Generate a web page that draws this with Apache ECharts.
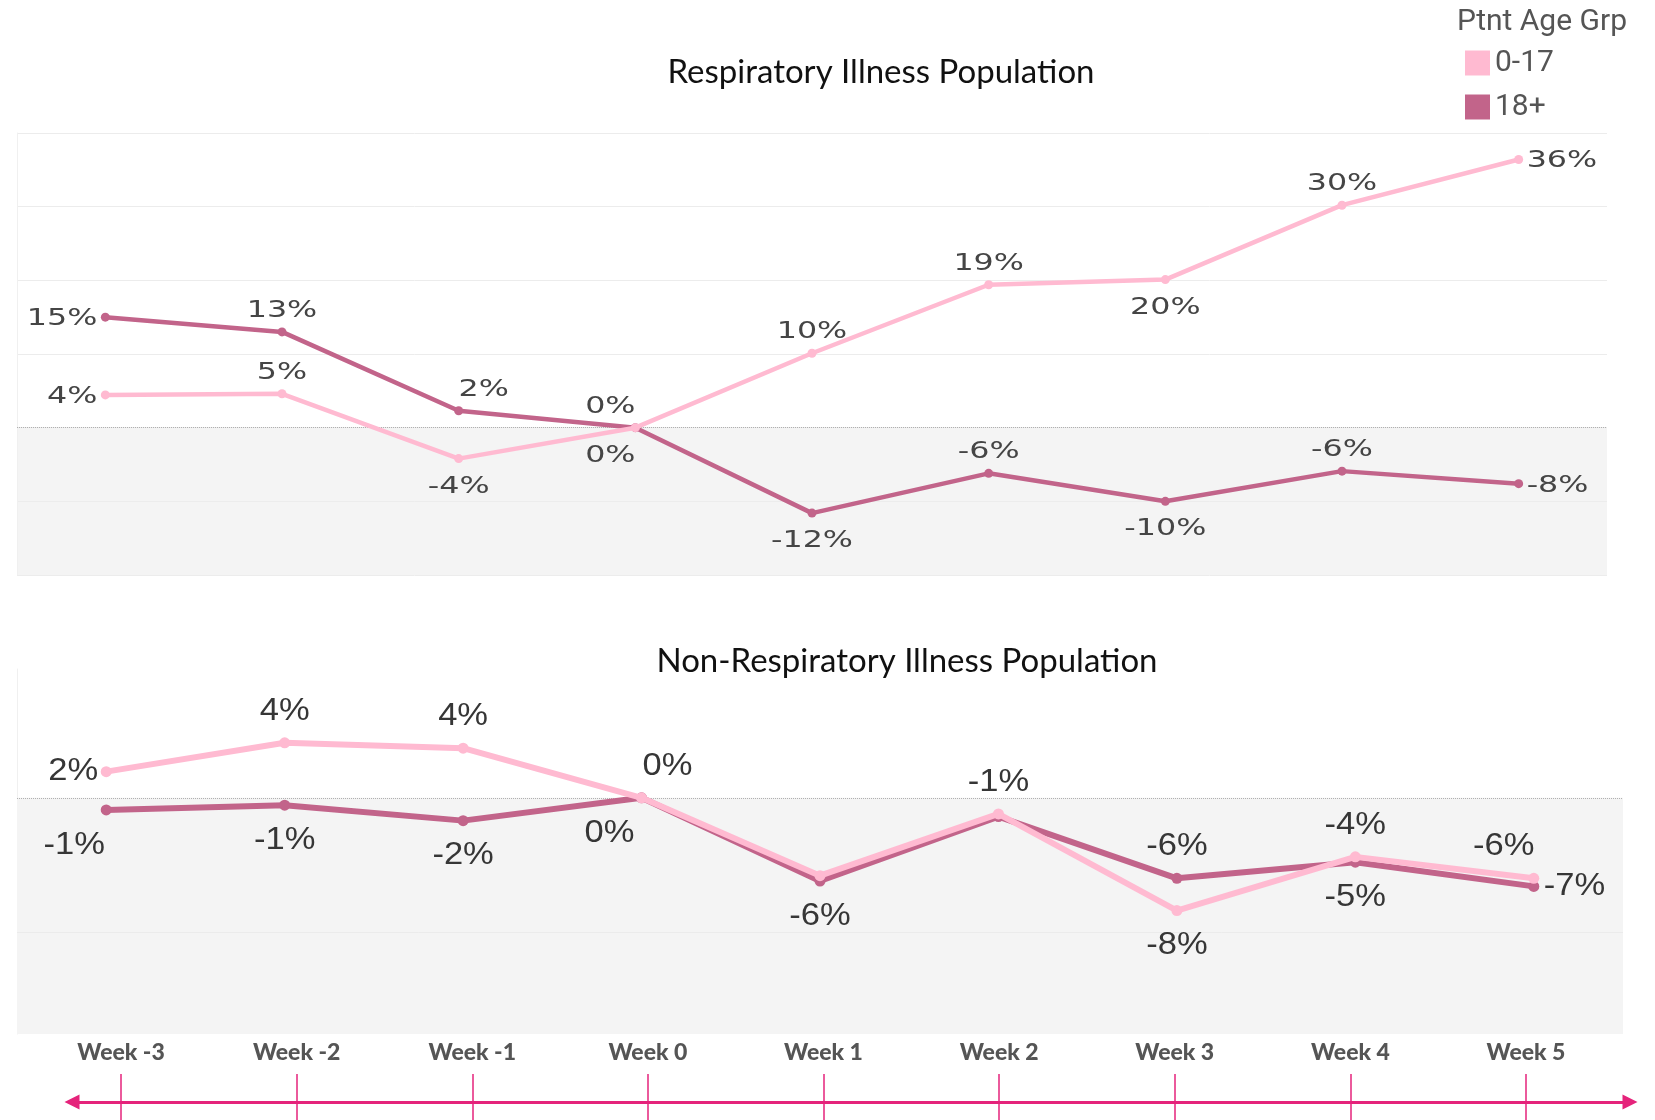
<!DOCTYPE html>
<html><head><meta charset="utf-8">
<script src="https://cdn.jsdelivr.net/npm/echarts@6/dist/echarts.min.js"></script>
<style>html,body{margin:0;padding:0;background:#fff}#c{width:1655px;height:1120px}</style>
</head><body><div id="c"></div>
<script>
// ---- data ----
const weeks = ['Week -3','Week -2','Week -1','Week 0','Week 1','Week 2','Week 3','Week 4','Week 5'];
const legendNames = ['0-17','18+'];
const resp017 = [4.45, 4.6, -4.2, 0, 10.1, 19.4, 20.1, 30.2, 36.4];
const resp18 = [15.0, 13.0, 2.3, 0, -11.6, -6.2, -10.0, -5.9, -7.6];
const nonResp017 = [1.95, 4.1, 3.7, 0, -5.8, -1.2, -8.4, -4.4, -6.0];
const nonResp18 = [-0.9, -0.55, -1.7, 0, -6.2, -1.4, -6.0, -4.8, -6.6];
const respAxis = {min: -20, max: 40, interval: 10};
const nonRespAxis = {min: -17.6, max: 9.6, gridLine: -10};

// ---- label placement (style, not data) ----
const placeResp017 = ['left','top','bottom','bottomLeft','top','top','bottom','top','right'];
const placeResp18 = ['left','top','topRight','topLeft','bottom','top','bottom','top','right'];
const placeNon017 = ['left','top','top','topRight',null,'top','bottom','top','topLeft'];
const placeNon18 = ['bottomLeft','bottom','bottom','bottomLeft','bottom',null,'top','bottom','right'];

const offTop = {top:[0,-21], bottom:[0,28], left:[-8,2,'right'], right:[8,2,'left'],
  topRight:[25,-21], topLeft:[-25,-21], bottomLeft:[-25,28]};
const offBot = {top:[0,-32], bottom:[0,35], left:[-8,0,'right'], right:[10,0,'left'],
  topRight:[26,-32], topLeft:[-30,-32], bottomLeft:[-32,35]};

const PINK = '#ffbad1', ROSE = '#c2648a', ARROW = '#e5237b';

function lineSeries(name, values, color, g, width, sym, z){
  return {type:'line', name, xAxisIndex:g, yAxisIndex:g, data:values, color,
    lineStyle:{width, color}, itemStyle:{color}, symbol:'circle', symbolSize:sym,
    showSymbol:true, z, silent:true, label:{show:false}};
}
function labelSeries(values, places, g, offsets, font, sx, color){
  return {type:'custom', name:'lbl', xAxisIndex:g, yAxisIndex:g, z:10, silent:true,
    data: values.map((v,i)=>[i,v]), encode:{x:0,y:1},
    renderItem(params, api){
      const pl = places[params.dataIndex];
      if(!pl) return null;
      const o = offsets[pl];
      const p = api.coord([api.value(0), api.value(1)]);
      let v = Math.round(api.value(1)); if (v === 0) v = 0;
      return {type:'text', x:p[0]+o[0], y:p[1]+o[1], scaleX:sx,
        style:{text: v + '%', fill:color, font, align:o[2]||'center', verticalAlign:'middle'}};
    }};
}

const topFont = 'normal 23px "DejaVu Sans"';
const botFont = 'normal 32px "Liberation Sans", Arial, sans-serif';

const s18top = lineSeries('18+', resp18, ROSE, 0, 4.5, 9, 2);
s18top.markLine = {silent:true, symbol:'none', z:1.5, label:{show:false},
  lineStyle:{color:'#b0b0b0', type:'dotted', width:1}, data:[{yAxis:0}]};
const s18bot = lineSeries('18+', nonResp18, ROSE, 1, 6, 11, 2);
s18bot.markArea = {silent:true, z:1, itemStyle:{color:'#f4f4f4'},
  data:[[{yAxis:0},{yAxis:nonRespAxis.min}]]};
s18bot.markLine = {silent:true, symbol:'none', z:1.5, label:{show:false},
  data:[{yAxis:0, lineStyle:{color:'#b0b0b0', type:'dotted', width:1}},
        {yAxis:nonRespAxis.gridLine, lineStyle:{color:'#ebebeb', type:'solid', width:1}}]};

const option = {
  animation:false,
  backgroundColor:'#fff',
  title:[
    {text:'Respiratory Illness Population', left:876, top:51, textAlign:'center',
      textStyle:{fontFamily:'Lato', fontWeight:'normal', fontSize:33, color:'#111'}},
    {text:'Non-Respiratory Illness Population', left:902, top:640, textAlign:'center',
      textStyle:{fontFamily:'Lato', fontWeight:'normal', fontSize:33, color:'#111'}},
    {text:'Ptnt Age Grp', left:1452, top:2,
      textStyle:{fontFamily:'Roboto', fontWeight:'normal', fontSize:30, color:'#555'}}
  ],
  legend:{data:legendNames, orient:'vertical', left:1465, top:48, padding:0,
    icon:'rect', itemWidth:25, itemHeight:25, itemGap:14, selectedMode:false,
    textStyle:{fontFamily:'Roboto', fontSize:30, color:'#555'}},
  grid:[
    {left:17, right:48, top:133, height:442},
    {left:17, right:32, top:669, height:365},
    {left:121, right:129, top:1074, height:46},
    {left:72, right:25, top:1101, height:1}
  ],
  xAxis:[
    {gridIndex:0, type:'category', data:weeks, boundaryGap:true, show:false},
    {gridIndex:1, type:'category', data:weeks, boundaryGap:true, show:false},
    {gridIndex:2, type:'category', data:weeks, boundaryGap:false, position:'top',
      axisLine:{show:false}, axisTick:{show:false},
      axisLabel:{interval:0, margin:10, fontFamily:'Lato', fontWeight:900, fontSize:23, color:'#555'},
      splitLine:{show:true, lineStyle:{color:ARROW, width:1.5}}},
    {gridIndex:3, type:'value', min:0, max:1, position:'bottom',
      axisLine:{show:true, onZero:false, symbol:['triangle','triangle'], symbolSize:[15,15],
        lineStyle:{color:ARROW, width:3}},
      axisTick:{show:false}, axisLabel:{show:false}, splitLine:{show:false}}
  ],
  yAxis:[
    {gridIndex:0, type:'value', min:respAxis.min, max:respAxis.max, interval:respAxis.interval,
      axisLabel:{show:false}, axisTick:{show:false},
      axisLine:{show:true, lineStyle:{color:'#f0f0f0'}},
      splitLine:{show:true, lineStyle:{color:'#ececec'}},
      splitArea:{show:true, areaStyle:{color:['#f4f4f4','#f4f4f4','#ffffff','#ffffff','#ffffff','#ffffff']}}},
    {gridIndex:1, type:'value', min:nonRespAxis.min, max:nonRespAxis.max,
      axisLabel:{show:false}, axisTick:{show:false},
      axisLine:{show:true, lineStyle:{color:'#f0f0f0'}},
      splitLine:{show:false}},
    {gridIndex:2, type:'value', show:false},
    {gridIndex:3, type:'value', show:false}
  ],
  series:[
    s18top,
    lineSeries('0-17', resp017, PINK, 0, 4.5, 9, 3),
    s18bot,
    lineSeries('0-17', nonResp017, PINK, 1, 6, 11, 3),
    labelSeries(resp017, placeResp017, 0, offTop, topFont, 1.38, '#454545'),
    labelSeries(resp18, placeResp18, 0, offTop, topFont, 1.38, '#454545'),
    labelSeries(nonResp017, placeNon017, 1, offBot, botFont, 1.08, '#363636'),
    labelSeries(nonResp18, placeNon18, 1, offBot, botFont, 1.08, '#363636')
  ]
};
const chart = echarts.init(document.getElementById('c'), null, {renderer:'canvas'});
chart.setOption(option);
</script>
</body></html>
